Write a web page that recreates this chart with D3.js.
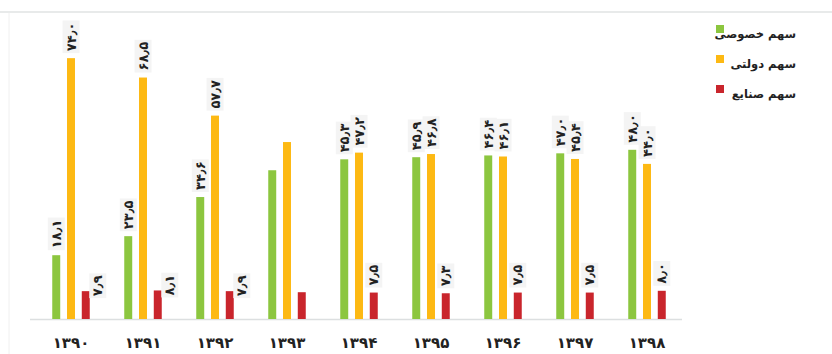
<!DOCTYPE html>
<html>
<head>
	<meta charset="utf-8">
	<script src="https://cdnjs.cloudflare.com/ajax/libs/d3/7.8.5/d3.min.js"></script>
	<style>
		body { margin: 0; background: #fff; }
		text { font-family: "DejaVu Sans", sans-serif; }
	</style>
</head>
<body>
	<svg width="832" height="354"></svg>
	<script>
		// data (years in Persian, shares in percent)
		let years = ["۱۳۹۰", "۱۳۹۱", "۱۳۹۲", "۱۳۹۳", "۱۳۹۴", "۱۳۹۵", "۱۳۹۶", "۱۳۹۷", "۱۳۹۸"];
		let privateShare = [18.1, 23.5, 34.6, 42.2, 45.3, 45.9, 46.4, 47.0, 48.0];
		let stateShare = [74.0, 68.5, 57.7, 50.2, 47.2, 46.8, 46.1, 45.4, 44.0];
		let industryShare = [7.9, 8.1, 7.9, 7.6, 7.5, 7.3, 7.5, 7.5, 8.0];
		let labelled = [true, true, true, false, true, true, true, true, true];
		let seriesNames = ["سهم خصوصی", "سهم دولتی", "سهم صنایع"];
		let colors = ["#8cc63f", "#fdb913", "#c9252c"];

		let svg = d3.select("svg");

		// frame lines
		svg.append("line").attr("x1", 0).attr("x2", 832).attr("y1", 12).attr("y2", 12)
			.attr("stroke", "#e8eaea").attr("stroke-width", 2);
		svg.append("line").attr("x1", 9).attr("x2", 9).attr("y1", 13).attr("y2", 354)
			.attr("stroke", "#f0f0f0").attr("stroke-width", 1);

		let toFa = function(s) {
			return String(s).replace(/\d/g, function(c) { return "۰۱۲۳۴۵۶۷۸۹"[+c]; }).replace(".", "٫");
		};

		let data = years.map(function(y, i) {
			return { year: y, i: i, values: [privateShare[i], stateShare[i], industryShare[i]] };
		});

		let x0 = d3.scaleBand().domain(years).range([35, 683]);
		let x1 = d3.scaleBand().domain([0, 1, 2]).range([0, 37.5]).paddingInner(0.46);
		let y = d3.scaleLinear().domain([0, 80]).range([319, 37]);
		let bw = x1.bandwidth();

		// baseline
		svg.append("line").attr("x1", 30).attr("x2", 682).attr("y1", y(0) + 0.5).attr("y2", y(0) + 0.5)
			.attr("stroke", "#dcdfe0").attr("stroke-width", 1.5);

		let groups = svg.append("g").selectAll("g")
			.data(data).enter().append("g")
			.attr("transform", function(d) { return "translate(" + (x0(d.year) + x0.bandwidth() / 2 - 18.75) + ",0)"; });

		groups.selectAll("rect")
			.data(function(d) { return d.values.map(function(v, k) { return { v: v, k: k, i: d.i }; }); })
			.enter().append("rect")
			.attr("x", function(d) { return x1(d.k); })
			.attr("y", function(d) { return y(d.v); })
			.attr("width", bw)
			.attr("height", function(d) { return y(0) - y(d.v); })
			.attr("fill", function(d) { return colors[d.k]; });

		// value labels, rotated
		let labels = groups.selectAll("g.lbl")
			.data(function(d) {
				if (!labelled[d.i]) return [];
				return d.values.map(function(v, k) { return { v: v, k: k, i: d.i }; });
			})
			.enter().append("g")
			.attr("class", "lbl")
			.attr("transform", function(d) {
				if (d.k == 2 && d.i < 3) {
					return "translate(" + (x1(d.k) + bw + 8) + "," + (y(d.v) + 5) + ") rotate(-90)";
				}
				return "translate(" + (x1(d.k) + bw / 2) + "," + (y(d.v) - 7) + ") rotate(-90)";
			});
		labels.append("text")
			.attr("dy", "0.35em")
			.attr("text-anchor", "start")
			.style("font-size", "13px")
			.style("font-weight", "bold")
			.attr("fill", "#222")
			.text(function(d) { return toFa(d.v.toFixed(1)); });
		labels.each(function() {
			let g = d3.select(this);
			let b = g.select("text").node().getBBox();
			g.insert("rect", "text")
				.attr("x", b.x - 2).attr("y", b.y - 1)
				.attr("width", b.width + 4).attr("height", b.height + 2)
				.attr("fill", "#f4f4f4");
		});

		// x axis labels
		svg.append("g").selectAll("text")
			.data(years).enter().append("text")
			.attr("x", function(d) { return x0(d) + x0.bandwidth() / 2; })
			.attr("y", 348)
			.attr("text-anchor", "middle")
			.style("font-size", "15px")
			.style("font-weight", "bold")
			.attr("fill", "#222")
			.text(function(d) { return d; });

		// legend
		let legend = svg.append("g").selectAll("g")
			.data(seriesNames).enter().append("g")
			.attr("transform", function(d, i) { return "translate(0," + (i * 30) + ")"; });
		legend.append("rect")
			.attr("x", 716).attr("y", 25)
			.attr("width", 8).attr("height", 8)
			.attr("fill", function(d, i) { return colors[i]; });
		legend.append("text")
			.attr("x", 796).attr("y", 38)
			.attr("text-anchor", "end")
			.style("font-size", "11.5px")
			.style("font-weight", "bold")
			.attr("fill", "#222")
			.text(function(d) { return d; });
	</script>
</body>
</html>
